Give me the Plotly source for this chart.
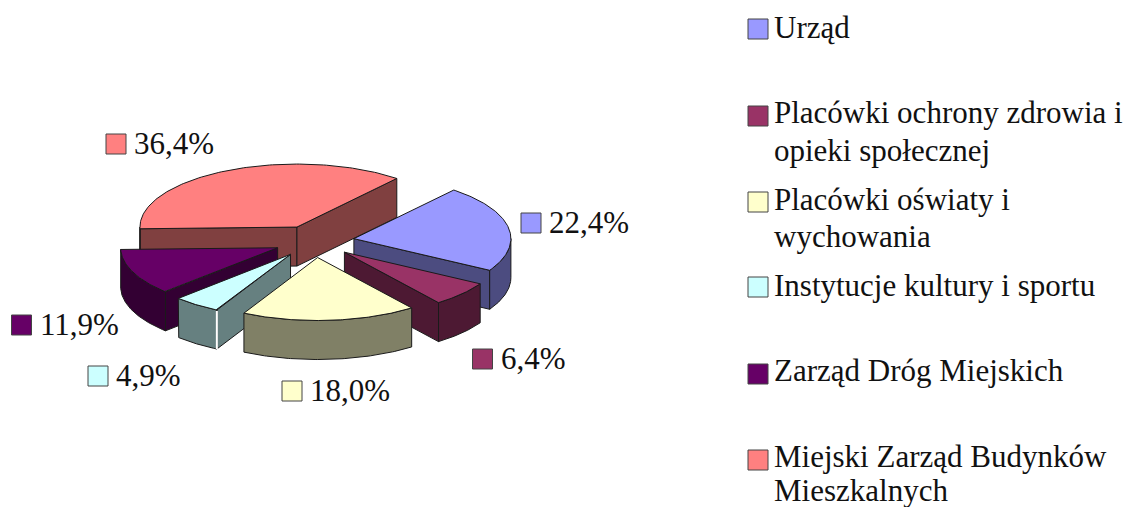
import numpy as np
import plotly.graph_objects as go

categories = ["Urząd", "Placówki ochrony zdrowia i opieki społecznej", "Placówki oświaty i wychowania",
              "Instytucje kultury i sportu", "Zarząd Dróg Miejskich", "Miejski Zarząd Budynków Mieszkalnych"]
values = [22.4, 6.4, 18.0, 4.9, 11.9, 36.4]
top_colors = ["#9999FF", "#993366", "#FFFFCC", "#CCFFFF", "#660066", "#FF8080"]
wall_colors = ["#4C4C80", "#4D1933", "#808066", "#668080", "#330033", "#804040"]

legend_lines = [["Urząd"], ["Placówki ochrony zdrowia i", "opieki społecznej"], ["Placówki oświaty i", "wychowania"],
                ["Instytucje kultury i sportu"], ["Zarząd Dróg Miejskich"], ["Miejski Zarząd Budynków", "Mieszkalnych"]]

# layout of the projected pie, in pixels of the page
CX, CY, RX, RY, DEPTH = 314.5, 241.5, 157, 63, 39
EXPLODE = 0.255
START = 39.5
draw_order = [5, 0, 1, 4, 3, 2]
value_label_pos = [(116, 144), (531, 223), (482.5, 359), (292, 391), (98, 376), (21.5, 325)]
value_label_pos = [value_label_pos[1], value_label_pos[2], value_label_pos[3], value_label_pos[4], value_label_pos[5], value_label_pos[0]]
legend_marker_y = [29, 116, 202, 287, 374, 460]
legend_line_y = [[27], [112, 150], [199, 236], [285], [370], [456, 490]]
FONT = "Liberation Serif"
TEXT = "#111111"
EDGE = "#1a1a1a"

fig = go.Figure()


def poly(xs, ys, fill):
    fig.add_trace(go.Scatter(x=list(xs), y=list(ys), mode="lines", fill="toself", fillcolor=fill,
                             line=dict(color=EDGE, width=1), hoverinfo="skip", showlegend=False))


def rim(theta_deg, ax, ay):
    t = np.radians(theta_deg)
    return ax + RX * np.sin(t), ay - RY * np.cos(t)


total = sum(values)
edges = START + np.concatenate([[0], np.cumsum(values)]) * 360 / total

for i in draw_order:
    a0, a1 = edges[i], edges[i + 1]
    mid = np.radians((a0 + a1) / 2)
    ax = CX + EXPLODE * RX * np.sin(mid)
    ay = CY - EXPLODE * RY * np.cos(mid)
    ix, iy = rim((a0 + a1) / 2, ax, ay)
    # radial walls, only the ones whose far side faces the viewer
    for edge_angle in (a0, a1):
        px, py = rim(edge_angle, ax, ay)
        if abs(px - ax) > 1e-6:
            line_y = ay + (py - ay) * (ix - ax) / (px - ax)
            visible = line_y > iy
        else:
            visible = False
        if visible:
            poly([ax, px, px, ax, ax], [ay, py, py + DEPTH, ay + DEPTH, ay], wall_colors[i])
    # outer wall: the stretch of the rim on the near half
    for lo, hi in ((90, 270), (450, 630)):
        b0, b1 = max(a0, lo), min(a1, hi)
        if b1 > b0:
            th = np.linspace(b0, b1, 80)
            rx, ry = rim(th, ax, ay)
            poly(np.concatenate([rx, rx[::-1], rx[:1]]), np.concatenate([ry, ry[::-1] + DEPTH, ry[:1]]), wall_colors[i])
    # top face
    th = np.linspace(a0, a1, 120)
    rx, ry = rim(th, ax, ay)
    poly(np.concatenate([[ax], rx, [ax]]), np.concatenate([[ay], ry, [ay]]), top_colors[i])
    # pale corner line seen on the small cyan slice
    if i == 3:
        px, py = rim(a0, ax, ay)
        fig.add_trace(go.Scatter(x=[px, px], y=[py + 1, py + DEPTH], mode="lines", line=dict(color="#FFFFFF", width=2),
                                 hoverinfo="skip", showlegend=False))

annotations = []
for (x, y), v, c in zip(value_label_pos, values, top_colors):
    fig.add_trace(go.Scatter(x=[x], y=[y], mode="markers", hoverinfo="skip", showlegend=False,
                             marker=dict(symbol="square", size=20, color=c, line=dict(color="#444444", width=1))))
    annotations.append(dict(x=x + 16, y=y - 1, text=f"{v:.1f}%".replace(".", ","), xanchor="left", yanchor="middle",
                            showarrow=False, xref="x", yref="y", font=dict(family=FONT, size=31, color=TEXT)))

for my, c, lines, ys in zip(legend_marker_y, top_colors, legend_lines, legend_line_y):
    fig.add_trace(go.Scatter(x=[758], y=[my], mode="markers", hoverinfo="skip", showlegend=False,
                             marker=dict(symbol="square", size=20, color=c, line=dict(color="#444444", width=1))))
    for line, y in zip(lines, ys):
        annotations.append(dict(x=772, y=y, text=line, xanchor="left", yanchor="middle", showarrow=False,
                                xref="x", yref="y", font=dict(family=FONT, size=31, color=TEXT)))

fig.update_layout(width=1128, height=507, margin=dict(l=0, r=0, t=0, b=0), paper_bgcolor="#FFFFFF",
                  plot_bgcolor="#FFFFFF", showlegend=False, annotations=annotations,
                  xaxis=dict(range=[0, 1128], visible=False, fixedrange=True),
                  yaxis=dict(range=[507, 0], visible=False, fixedrange=True))
fig.write_html("out.html", config=dict(displayModeBar=False),
               post_script="document.body.style.margin='0';")
